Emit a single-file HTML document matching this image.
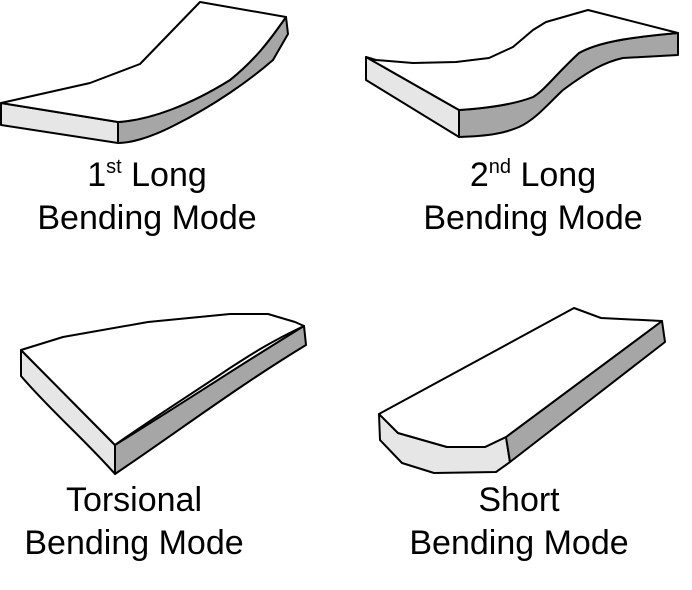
<!DOCTYPE html>
<html><head><style>
body{margin:0;background:#fff;width:692px;height:590px;overflow:hidden;position:relative}
svg{position:absolute;left:0;top:0}
.t{position:absolute;font-family:"Liberation Sans",sans-serif;font-size:34px;color:#000;text-align:center;width:320px;line-height:43px}
sup{font-size:20px;vertical-align:13px;line-height:0}
</style></head><body>
<svg width="692" height="590" stroke="#000" stroke-width="2" stroke-linejoin="round">
<!-- 1st long -->
<path d="M1,103 L1,125 L118,143 L118,122 Z" fill="#e6e6e6"/>
<path d="M118,122 C150,120 190,105 230,80 C255,60 270,40 286,17 L288,34 L273,60 C250,80 215,105 175,125 C150,138 130,143 118,143 Z" fill="#a6a6a6"/>
<path d="M1,103 L90,83 L140,64 L200,2 L286,17 C270,40 255,60 230,80 C190,105 150,120 118,122 Z" fill="#fff"/>
<!-- 2nd long -->
<path d="M366,57 L366,80 L459,137 L459,110 Z" fill="#e6e6e6"/>
<path d="M459,110 C490,108 515,104 533,97 C545,90 555,75 579,53 C595,44 620,38 678,33 L678,55 L623,58 C605,62 590,70 563,90 C548,104 535,120 519,127 C505,133 490,136 459,137 Z" fill="#a6a6a6"/>
<path d="M366,57 L376,60 L413,63 L456,62 L489,58 L513,47 L533,30 L546,22 L588,10 L678,33 C620,38 595,44 579,53 C555,75 545,90 533,97 C515,104 490,108 459,110 Z" fill="#fff"/>
<!-- torsional -->
<path d="M21,350 L21,376 C50,410 85,440 115,474 L115,445 Z" fill="#e6e6e6"/>
<path d="M115,445 C180,405 240,365 304,326 L306,345 C240,385 180,430 115,474 Z" fill="#a6a6a6"/>
<path d="M21,350 L63,337 L148,322 L230,314 L268,314 L295,322 L304,326 C270,342 250,355 230,368 C190,395 150,420 115,445 Z" fill="#fff"/>
<!-- short -->
<path d="M379,414 L398,433 L447,447 L485,447 L506,437 L510,462 L496,472 L434,473 L402,463 L380,440 Z" fill="#e6e6e6"/>
<path d="M506,437 L662,321 L665,342 L510,462 Z" fill="#a6a6a6"/>
<path d="M379,414 L574,308 L601,318 L662,321 L506,437 L485,447 L447,447 L398,433 Z" fill="#fff"/>
</svg>
<div class="t" style="left:-13px;top:154px">1<sup>st</sup> Long<br>Bending Mode</div>
<div class="t" style="left:373px;top:154px">2<sup>nd</sup> Long<br>Bending Mode</div>
<div class="t" style="left:-26px;top:479px">Torsional<br>Bending Mode</div>
<div class="t" style="left:359px;top:479px">Short<br>Bending Mode</div>
</body></html>
